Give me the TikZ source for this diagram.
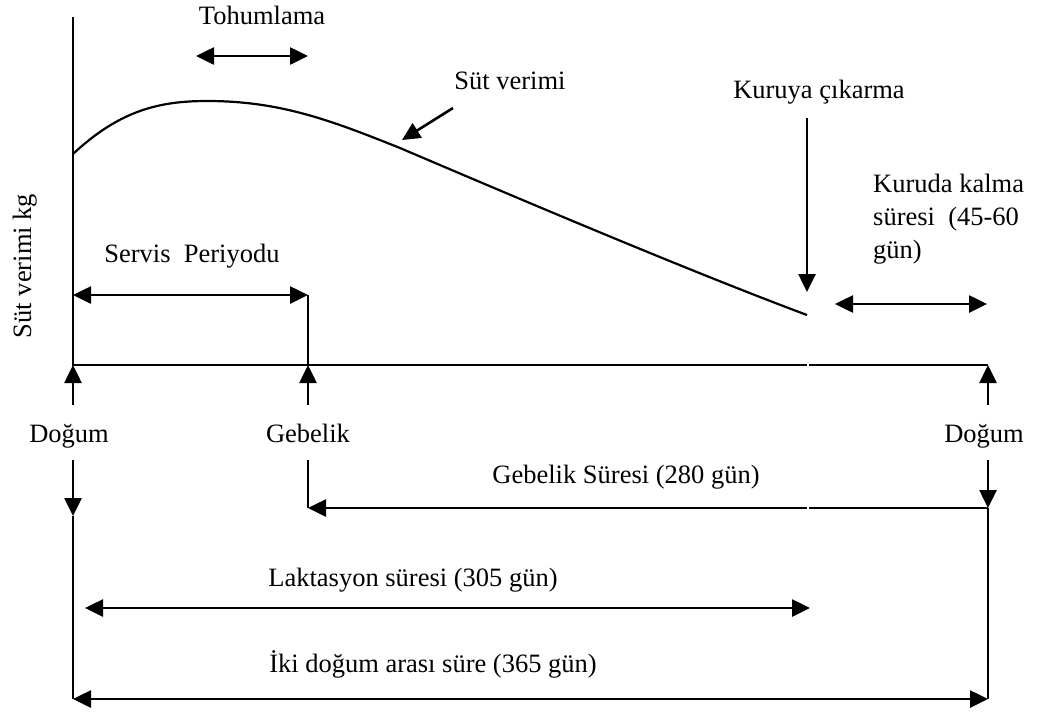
\documentclass[tikz,border=0pt]{standalone}
\usepackage{fontspec}
\setmainfont{Liberation Serif}
\usetikzlibrary{arrows.meta}
\begin{document}
\begin{tikzpicture}[x=1pt,y=-1pt,
  lbl/.style={font=\fontsize{26.5}{32}\selectfont, inner sep=0pt},
  ln/.style={line width=2.2pt},
  thin line/.style={line width=1.3pt},
  arr/.style={line width=2.6pt, -{Triangle[length=18pt,width=17pt]}},
  darr/.style={line width=2.6pt, {Triangle[length=18pt,width=17pt]}-{Triangle[length=18pt,width=17pt]}}]
\useasboundingbox (0,0) rectangle (1041,713);

% axes
\coordinate (ytop) at (73,17);
\coordinate (O) at (73,365);
\coordinate (G) at (308,365);
\coordinate (gap1) at (807,365);
\coordinate (gap2) at (809,365);
\coordinate (E) at (988,365);
\draw[ln] (ytop) -- (O) -- (gap1);
\draw[ln] (gap2) -- (E);

% lactation curve
\coordinate (c0) at (73,154);
\coordinate (cp) at (207,101);
\coordinate (cm) at (400,148);
\coordinate (ce) at (807,315);
\draw[ln] (c0) .. controls (120,110) and (160,101) .. (cp)
              .. controls (280,101) and (330,120) .. (cm)
              .. controls (550,212) and (700,275) .. (ce);

% y label
\node[lbl, rotate=90, anchor=base] (ylab) at (31,266) {Süt verimi kg};

% Tohumlama
\node[lbl, anchor=base] (toh) at (262,24) {Tohumlama};
\coordinate (t1) at (196,56);
\coordinate (t2) at (308,56);
\draw[darr] (t1) -- (t2);

% Sut verimi
\node[lbl, anchor=base] (sut) at (510,89) {Süt verimi};
\coordinate (s1) at (453,108);
\coordinate (s2) at (402,140);
\draw[arr] (s1) -- (s2);

% Kuruya cikarma
\node[lbl, anchor=base] (kc) at (819,98) {Kuruya çıkarma};
\coordinate (k1) at (807,118);
\coordinate (k2) at (807,292);
\draw[arr] (k1) -- (k2);

% Kuruda kalma
\node[lbl, anchor=base west] (kd1t) at (873,192) {Kuruda kalma};
\node[lbl, anchor=base west] (kd2t) at (873,225) {süresi\ \ (45-60};
\node[lbl, anchor=base west] (kd3t) at (873,258) {gün)};
\coordinate (kd1) at (835,304);
\coordinate (kd2) at (987,304);
\draw[darr] (kd1) -- (kd2);

% Servis periyodu
\node[lbl, anchor=base] (sp) at (192,262) {Servis\ \ Periyodu};
\coordinate (sp1) at (73,295);
\coordinate (sp2) at (308,295);
\draw[darr] (sp1) -- (sp2);
\draw[ln] (sp2) -- (G);

% event labels
\node[lbl, anchor=base] (d1) at (69,442) {Doğum};
\node[lbl, anchor=base] (geb) at (308,442) {Gebelik};
\node[lbl, anchor=base] (d2) at (984,442) {Doğum};

\coordinate (u1) at (73,405);
\coordinate (u2) at (308,405);
\coordinate (u3) at (988,405);
\draw[arr] (u1) -- (O);
\draw[arr] (u2) -- (G);
\draw[arr] (u3) -- (E);

% downward arrows
\coordinate (dn1) at (73,460);
\coordinate (dt1) at (73,516);
\coordinate (dn2) at (308,460);
\coordinate (gc) at (308,508);
\coordinate (dn3) at (988,460);
\coordinate (E2) at (988,508);
\coordinate (gg1) at (807,508);
\coordinate (gg2) at (809,508);
\coordinate (bl) at (73,699);
\coordinate (br) at (988,699);

\draw[arr] (dn1) -- (dt1);
\draw[thin line] (dt1) -- (bl);
\draw[ln] (dn2) -- (gc);
\draw[arr] (dn3) -- (E2);
\draw[thin line] (E2) -- (br);

% Gebelik suresi
\node[lbl, anchor=base] (gs) at (626,483) {Gebelik Süresi (280 gün)};
\draw[ln] (E2) -- (gg2);
\draw[arr] (gg1) -- (gc);

% Laktasyon suresi
\node[lbl, anchor=base] (lak) at (413,586) {Laktasyon süresi (305 gün)};
\coordinate (la1) at (85,608);
\coordinate (la2) at (810,608);
\draw[darr] (la1) -- (la2);

% Iki dogum arasi
\node[lbl, anchor=base] (iki) at (433,672) {İki doğum arası süre (365 gün)};
\draw[darr] (bl) -- (br);
\end{tikzpicture}
\end{document}
